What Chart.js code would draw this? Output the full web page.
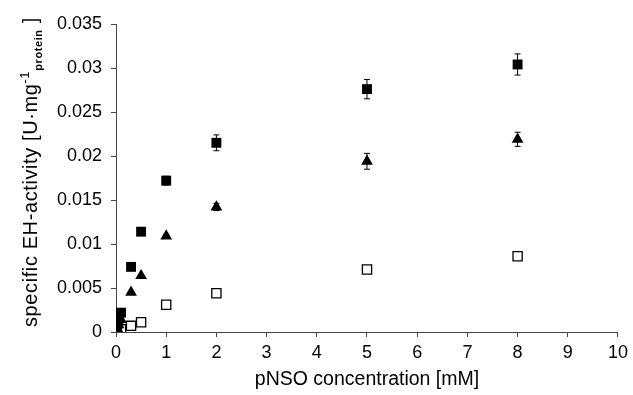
<!DOCTYPE html>
<html>
<head>
<meta charset="utf-8">
<script src="https://cdn.jsdelivr.net/npm/chart.js@4"></script>
<style>
  html, body { margin: 0; padding: 0; background: #fff; }
  #wrap { width: 633px; height: 395px; position: relative; }
</style>
</head>
<body>
<div id="wrap"><canvas id="grafico"></canvas></div>
<script>
// concentraciones pNSO [mM]
const conc = [0.025, 0.05, 0.1, 0.3, 0.5, 1, 2, 5, 8];
// actividad especifica, tres series
const serieLlena = [0.0008, 0.0015, 0.0022, 0.0074, 0.0114, 0.0172, 0.0215, 0.0276, 0.0304];
const errLlena   = [0, 0, 0, 0, 0.0002, 0.0005, 0.0009, 0.0011, 0.0012];
const serieTri   = [0.0004, 0.0008, 0.0014, 0.0045, 0.0064, 0.0109, 0.0142, 0.0194, 0.0219];
const errTri     = [0, 0, 0, 0, 0, 0.0002, 0.0004, 0.0009, 0.0008];
const serieVacia = [0.0001, 0.0002, 0.0003, 0.0007, 0.0011, 0.0031, 0.0044, 0.0071, 0.0086];
const errVacia   = [0, 0, 0, 0, 0, 0, 0, 0, 0];

const ticksX = [0, 1, 2, 3, 4, 5, 6, 7, 8, 9, 10];
const ticksY = [0, 0.005, 0.01, 0.015, 0.02, 0.025, 0.03, 0.035];

const fuente = 'Liberation Sans, Arial, sans-serif';

function puntos(ys) {
    return conc.map((x, i) => ({ x: x, y: ys[i] }));
}

// barras de error dibujadas con las escalas del grafico
const barrasError = {
    id: 'barrasError',
    afterDatasetsDraw(chart) {
        const ctx = chart.ctx;
        const xs = chart.scales.x, ys = chart.scales.y;
        chart.data.datasets.forEach(ds => {
            ds.errores.forEach((e, i) => {
                if (!e) return;
                const px = xs.getPixelForValue(conc[i]);
                const y1 = ys.getPixelForValue(ds.data[i].y + e);
                const y2 = ys.getPixelForValue(ds.data[i].y - e);
                ctx.save();
                ctx.strokeStyle = '#000';
                ctx.lineWidth = 1;
                ctx.beginPath();
                ctx.moveTo(px, y1); ctx.lineTo(px, y2);
                ctx.moveTo(px - 3, y1); ctx.lineTo(px + 3, y1);
                ctx.moveTo(px - 3, y2); ctx.lineTo(px + 3, y2);
                ctx.stroke();
                ctx.restore();
            });
        });
    }
};

// titulo del eje y con superindice y subindice
const tituloY = {
    id: 'tituloY',
    afterDraw(chart) {
        const ctx = chart.ctx;
        const partes = [
            { t: 'specific EH-activity [U\u00b7mg', f: '20px ' + fuente, dy: 0 },
            { t: '-1', f: '13px ' + fuente, dy: -8 },
            { t: 'protein', f: 'bold 11px ' + fuente, dy: 5 },
            { t: ' ]', f: '20px ' + fuente, dy: 0 }
        ];
        ctx.save();
        ctx.letterSpacing = '0.6px';
        let total = 0;
        partes.forEach(p => { ctx.font = p.f; p.w = ctx.measureText(p.t).width; total += p.w; });
        ctx.translate(37, 172);
        ctx.rotate(-Math.PI / 2);
        ctx.fillStyle = '#000';
        ctx.textBaseline = 'alphabetic';
        let x = -total / 2;
        partes.forEach(p => {
            ctx.font = p.f;
            ctx.fillText(p.t, x, p.dy);
            x += p.w;
        });
        ctx.restore();
    }
};

const ctx = document.getElementById('grafico');

new Chart(ctx, {
    type: 'scatter',
    data: {
        datasets: [
            {
                label: 'llena',
                data: puntos(serieLlena),
                errores: errLlena,
                pointStyle: 'rect',
                pointRadius: 7,
                backgroundColor: '#000',
                borderColor: '#000',
                borderWidth: 0
            },
            {
                label: 'triangulo',
                data: puntos(serieTri),
                errores: errTri,
                pointStyle: 'triangle',
                pointRadius: 6.8,
                backgroundColor: '#000',
                borderColor: '#000',
                borderWidth: 0
            },
            {
                label: 'vacia',
                data: puntos(serieVacia),
                errores: errVacia,
                pointStyle: 'rect',
                pointRadius: 6.5,
                backgroundColor: '#fff',
                borderColor: '#000',
                borderWidth: 1.3
            }
        ]
    },
    plugins: [barrasError, tituloY],
    options: {
        responsive: true,
        maintainAspectRatio: false,
        animation: false,
        layout: { padding: { top: 24, right: 11, left: 0, bottom: 0 } },
        plugins: {
            legend: { display: false },
            tooltip: { enabled: false }
        },
        scales: {
            x: {
                type: 'linear',
                min: 0,
                max: 10,
                afterBuildTicks: s => { s.ticks = ticksX.map(v => ({ value: v })); },
                afterFit: s => { s.height = 63; },
                grid: { drawOnChartArea: false, tickLength: 5, color: '#444' },
                border: { color: '#444', width: 1 },
                ticks: { color: '#000', font: { family: fuente, size: 18 }, padding: 5, maxRotation: 0 },
                title: {
                    display: true,
                    text: 'pNSO concentration [mM]',
                    color: '#000',
                    font: { family: fuente, size: 19.5 },
                    padding: { top: 5 }
                }
            },
            y: {
                min: 0,
                max: 0.035,
                afterBuildTicks: s => { s.ticks = ticksY.map(v => ({ value: v })); },
                afterFit: s => { s.width = 116; },
                grid: { drawOnChartArea: false, tickLength: 5, color: '#444' },
                border: { color: '#444', width: 1 },
                ticks: {
                    color: '#000',
                    font: { family: fuente, size: 18 },
                    padding: 9,
                    callback: v => String(+v.toFixed(3))
                }
            }
        }
    }
});
</script>
</body>
</html>
